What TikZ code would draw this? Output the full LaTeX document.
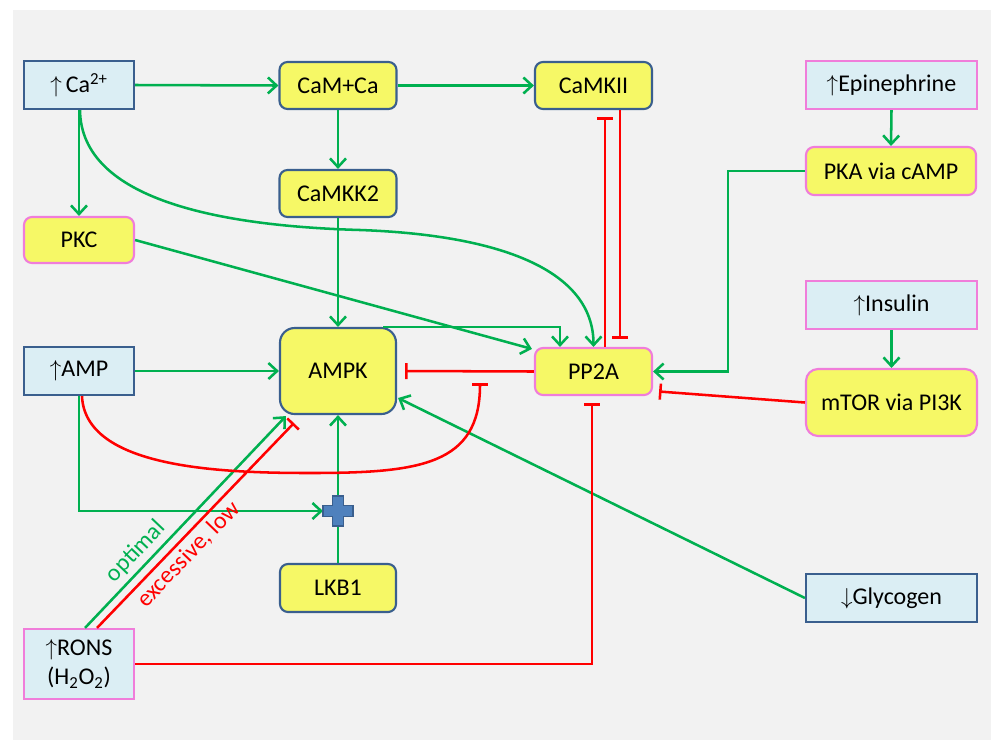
\documentclass[tikz,border=0pt]{standalone}
\usepackage{fontspec}
\setmainfont{Carlito}
\usetikzlibrary{arrows.meta,calc}
\definecolor{bgray}{HTML}{F2F2F2}
\definecolor{lblue}{HTML}{DBEEF4}
\definecolor{dblue}{HTML}{3A5F8E}
\definecolor{yel}{HTML}{F6F866}
\definecolor{pinkc}{HTML}{F07DDA}
\definecolor{grn}{HTML}{00B050}
\definecolor{rd}{HTML}{FF0000}
\definecolor{plusfill}{HTML}{4F81BD}
\tikzset{
  box/.style={line width=1.6pt, inner sep=0pt, align=center, font=\fontsize{18}{22}\selectfont},
  src/.style={box, fill=lblue},
  enz/.style={box, fill=yel, rounded corners=6pt},
  bb/.style={draw=dblue},
  pb/.style={draw=pinkc},
  act/.style={draw=grn, line width=1.9pt, -{Straight Barb[length=6.5pt,width=12pt]}},
  inh/.style={draw=rd, line width=1.9pt, -{Bar[width=12pt]}},
  lbl/.style={font=\fontsize{18}{22}\selectfont, sloped, inner sep=3pt},
}
\begin{document}
\begin{tikzpicture}[x=0.75pt,y=-0.75pt]
\useasboundingbox (0,0) rectangle (991,740);
\fill[white] (0,0) rectangle (991,740);
\fill[bgray] (13,10) rectangle (991,740);

% nodes
\node[src,bb,minimum width=82.5pt,minimum height=36pt] (Ca) at (79,85) {$\uparrow$\,Ca\textsuperscript{2+}};
\node[enz,bb,minimum width=87.75pt,minimum height=35.25pt] (CaM) at (338,85.5) {CaM+Ca};
\node[enz,bb,minimum width=87.75pt,minimum height=35.25pt] (CaMKII) at (593.5,85.5) {CaMKII};
\node[enz,bb,minimum width=87.75pt,minimum height=35.25pt] (CaMKK) at (338,193.5) {CaMKK2};
\node[enz,pb,minimum width=82.5pt,minimum height=34.5pt] (PKC) at (79,240) {PKC};
\node[src,pb,minimum width=128.25pt,minimum height=36pt] (Epi) at (891.5,85) {$\uparrow$Epinephrine};
\node[enz,pb,minimum width=127.5pt,minimum height=36pt] (PKA) at (891,171) {PKA via cAMP};
\node[src,pb,minimum width=128.25pt,minimum height=36pt] (Ins) at (891.5,305) {$\uparrow$Insulin};
\node[enz,pb,rounded corners=9pt,minimum width=128.25pt,minimum height=50.25pt] (mTOR) at (891.5,402.5) {mTOR via PI3K};
\node[src,bb,minimum width=82.5pt,minimum height=36pt] (AMP) at (79,371) {$\uparrow$AMP};
\node[enz,bb,rounded corners=11pt,minimum width=87pt,minimum height=64.5pt] (AMPK) at (338,371) {AMPK};
\node[enz,bb,minimum width=87pt,minimum height=36pt] (LKB) at (338,588) {LKB1};
\node[src,pb,minimum width=82.5pt,minimum height=52.5pt] (RONS) at (79,664) {$\uparrow$RONS\\(H\textsubscript{2}O\textsubscript{2})};
\node[enz,pb,minimum width=87.75pt,minimum height=35.25pt] (PP2A) at (593.5,371.5) {PP2A};
\node[src,bb,minimum width=128.25pt,minimum height=36pt] (Gly) at (891.5,598) {$\downarrow$Glycogen};
\coordinate (plus) at (338,511);
\coordinate (ampend) at (480,383);

% activating connectors
\draw[act] (Ca.east) -- (CaM.west);
\draw[act] (CaM.east) -- (CaMKII.west);
\draw[act] (CaM.south) -- (CaMKK.north);
\draw[act] (Ca.south) -- (PKC.north);
\draw[act] ($(Ca.south)+(1,0)$) .. controls (81,200) and (220,226) .. (360,230) .. controls (500,235) and (593.5,270) .. (PP2A.north);
\draw[act] (CaMKK.south) -- (AMPK.north);
\draw[act] (PKC.east) -- ($(PP2A.north west)+(-2,2)$);
\draw[act] ($(AMPK.north east)+(-14,0)$) -| ($(PP2A.north)+(-33.5,0)$);
\draw[act] (PKA.west) -- ++(-77,0) |- (PP2A.east);
\draw[act] (Epi.south) -- (PKA.north);
\draw[act] (Ins.south) -- (mTOR.north);
\draw[act] (AMP.east) -- (AMPK.west);
\draw[act] (AMP.south) |- ($(plus)+(-15,0)$);
\draw[act] (LKB.north) -- (AMPK.south);
\draw[act] (Gly.west) -- ($(AMPK.east)+(1,27)$);
\draw[act] ($(RONS.north)+(6,0)$) -- node[lbl,above,pos=0.31,text=grn] {optimal} ($(AMPK.south west)+(7,1)$);

% inhibiting connectors
\draw[inh] (PP2A.west) -- ($(AMPK.east)+(8,0)$);
\draw[inh] ($(PP2A.north)+(11.5,0)$) -- ($(CaMKII.south)+(11.5,7)$);
\draw[inh] ($(CaMKII.south)+(26.5,0)$) -- ($(PP2A.north)+(26.5,-8)$);
\draw[inh] (mTOR.west) -- ($(PP2A.east)+(6,20)$);
\draw[inh] ($(AMP.south)+(3,0)$) .. controls (85,468) and (220,473) .. (310,473) .. controls (420,473) and (480,465) .. (ampend);
\draw[inh] ($(RONS.north)+(18,0)$) -- node[lbl,below,pos=0.41,text=rd] {excessive, low} ($(AMPK.south west)+(15,8)$);
\draw[inh] (RONS.east) -| ($(PP2A.south)+(-1.5,7)$);

% plus junction
\draw[draw=dblue, fill=plusfill, line width=1pt]
  ($(plus)+(-5.5,-15)$) -- ($(plus)+(5.5,-15)$) -- ($(plus)+(5.5,-5.5)$) -- ($(plus)+(15,-5.5)$)
  -- ($(plus)+(15,5.5)$) -- ($(plus)+(5.5,5.5)$) -- ($(plus)+(5.5,15)$) -- ($(plus)+(-5.5,15)$)
  -- ($(plus)+(-5.5,5.5)$) -- ($(plus)+(-15,5.5)$) -- ($(plus)+(-15,-5.5)$) -- ($(plus)+(-5.5,-5.5)$) -- cycle;
\end{tikzpicture}
\end{document}
